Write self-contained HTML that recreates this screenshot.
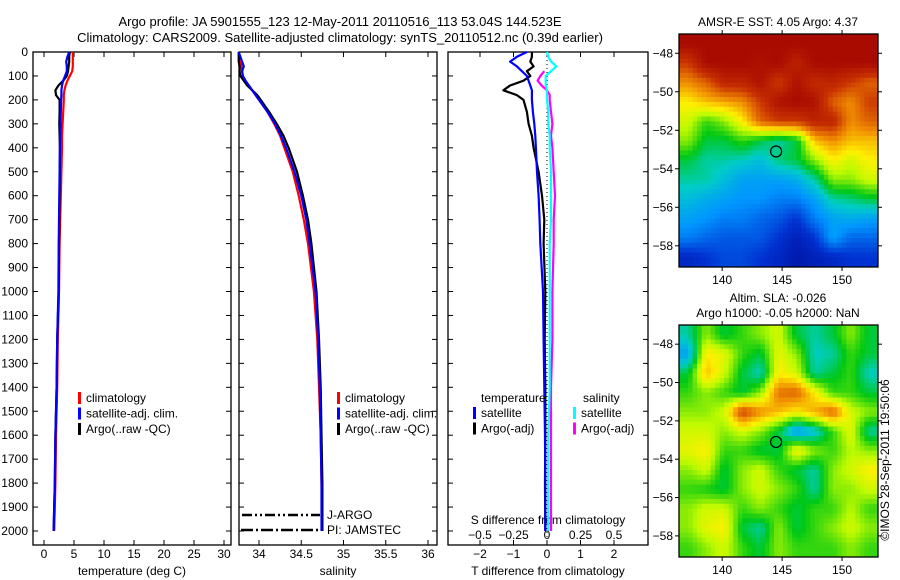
<!DOCTYPE html>
<html><head><meta charset="utf-8">
<style>
body{margin:0;background:#fff;}
svg{display:block;font-family:"Liberation Sans",sans-serif;}
text{font-size:12px;fill:#000;}
</style></head>
<body>
<svg id="c" width="900" height="580" viewBox="0 0 900 580" xmlns="http://www.w3.org/2000/svg">
<text x="340" y="26" text-anchor="middle" style="font-size:13px">Argo profile: JA 5901555_123 12-May-2011 20110516_113 53.04S 144.523E</text>
<text x="340" y="42" text-anchor="middle" style="font-size:13px">Climatology: CARS2009. Satellite-adjusted climatology: synTS_20110512.nc (0.39d earlier)</text>
<text x="778" y="26" text-anchor="middle">AMSR-E SST: 4.05 Argo: 4.37</text>
<text x="778" y="302" text-anchor="middle">Altim. SLA: -0.026</text>
<text x="778" y="317" text-anchor="middle">Argo h1000: -0.05 h2000: NaN</text>
<text transform="translate(889,460) rotate(-90)" text-anchor="middle">©IMOS 28-Sep-2011 19:50:06</text>
<g id="g"></g>
</svg>
<script>
// ---- data ----
const depthTicks=[0,100,200,300,400,500,600,700,800,900,1000,1100,1200,1300,1400,1500,1600,1700,1800,1900,2000];
const tTicks=[0,5,10,15,20,25,30];
const sTicks=[34,34.5,35,35.5,36];
const dTTicks=[-2,-1,0,1,2];
const dSTicks=[-0.5,-0.25,0,0.25,0.5];
const dSLabels=["-0.5","-0.25","0","0.25","0.5"];
const depths=[0,20,40,60,80,100,120,140,160,180,200,250,300,350,400,500,600,700,800,1000,1200,1400,1600,1800,2000];
const tClim=[4.8,4.8,4.8,4.8,4.7,4.3,3.9,3.6,3.4,3.3,3.3,3.2,3.1,3.0,3.0,2.9,2.8,2.7,2.6,2.5,2.3,2.2,2.0,1.9,1.7];
const tSat=[4.2,3.9,3.7,3.8,3.8,3.5,3.2,3.0,2.9,2.9,2.85,2.8,2.75,2.7,2.65,2.6,2.55,2.5,2.45,2.4,2.2,2.1,1.9,1.8,1.6];
const tArgo=[4.3,4.2,4.2,4.1,4.0,3.8,3.2,2.4,1.9,2.0,2.6,2.6,2.55,2.6,2.65,2.65,2.6,2.55,2.5,2.45,2.2,2.1,1.9,1.8,1.6];
const sClim=[33.76,33.77,33.78,33.79,33.8,33.81,33.84,33.88,33.92,33.96,34.0,34.1,34.18,34.25,34.3,34.4,34.47,34.53,34.58,34.65,34.69,34.71,34.73,34.74,34.75];
const sSat=[33.76,33.78,33.8,33.82,33.8,33.81,33.84,33.88,33.92,33.96,34.0,34.1,34.19,34.26,34.32,34.42,34.5,34.56,34.6,34.67,34.7,34.72,34.73,34.74,34.74];
const sArgo=[33.76,33.76,33.76,33.77,33.77,33.78,33.82,33.86,33.92,33.98,34.02,34.12,34.21,34.29,34.35,34.45,34.52,34.58,34.62,34.68,34.71,34.73,34.74,34.75,34.75];
const dtSat=[-0.6,-0.9,-1.1,-0.9,-0.75,-0.6,-0.55,-0.5,-0.45,-0.45,-0.45,-0.42,-0.38,-0.35,-0.33,-0.3,-0.25,-0.22,-0.2,-0.12,-0.1,-0.08,-0.06,-0.05,-0.05];
const dtArgo=[-0.45,-0.45,-0.5,-0.4,-0.6,-0.5,-0.7,-1.1,-1.3,-0.9,-0.7,-0.6,-0.55,-0.45,-0.4,-0.25,-0.15,-0.08,-0.1,-0.05,-0.07,-0.05,-0.05,-0.06,-0.05];
const dsSat=[0.0,0.01,0.03,0.07,0.03,-0.01,-0.01,-0.01,0.0,0.0,0.0,0.01,0.01,0.02,0.02,0.03,0.03,0.03,0.02,0.02,0.02,0.02,0.01,0.01,0.01];
const dsArgo=[null,null,null,null,-0.02,-0.05,-0.07,-0.04,0.0,0.02,0.02,0.03,0.04,0.03,0.04,0.05,0.06,0.05,0.05,0.04,0.04,0.03,0.03,0.03,0.03];
const lonTicks=[140,145,150];
const latTicks=[-48,-50,-52,-54,-56,-58];
const argoLon=144.5, argoLat=-53.1;
const sstGrid=[
[0.97,0.97,0.97,0.97,0.97,0.97,0.97,0.97,0.97,0.97,0.97],
[0.85,0.97,0.97,0.97,0.95,0.97,0.9,0.97,0.97,0.97,0.97],
[0.75,0.8,0.9,0.9,0.95,0.85,0.95,0.88,0.9,0.85,0.8],
[0.65,0.7,0.72,0.75,0.85,0.95,0.97,0.95,0.8,0.75,0.85],
[0.6,0.5,0.55,0.65,0.8,0.85,0.85,0.9,0.9,0.75,0.8],
[0.55,0.45,0.45,0.5,0.45,0.4,0.45,0.7,0.75,0.7,0.7],
[0.45,0.4,0.4,0.38,0.35,0.42,0.45,0.55,0.65,0.6,0.65],
[0.4,0.4,0.35,0.3,0.3,0.3,0.32,0.4,0.55,0.55,0.6],
[0.35,0.32,0.3,0.28,0.28,0.25,0.25,0.3,0.4,0.42,0.45],
[0.3,0.28,0.25,0.25,0.22,0.2,0.15,0.25,0.3,0.32,0.3],
[0.25,0.22,0.2,0.2,0.2,0.15,0.1,0.15,0.3,0.22,0.22],
[0.12,0.15,0.18,0.18,0.15,0.12,0.08,0.1,0.12,0.15,0.15]];
const slaGrid=[
[0.4,0.55,0.45,0.5,0.55,0.6,0.45,0.4,0.45,0.55,0.45],
[0.3,0.65,0.62,0.5,0.45,0.62,0.55,0.38,0.4,0.5,0.45],
[0.45,0.7,0.6,0.45,0.38,0.65,0.6,0.4,0.45,0.5,0.38],
[0.5,0.55,0.5,0.45,0.55,0.78,0.8,0.65,0.5,0.5,0.45],
[0.55,0.55,0.6,0.85,0.75,0.7,0.65,0.72,0.8,0.6,0.55],
[0.6,0.6,0.55,0.6,0.55,0.45,0.28,0.35,0.5,0.62,0.4],
[0.62,0.65,0.5,0.5,0.45,0.45,0.65,0.55,0.5,0.58,0.55],
[0.55,0.6,0.45,0.55,0.6,0.5,0.45,0.4,0.55,0.6,0.65],
[0.5,0.48,0.45,0.55,0.6,0.55,0.5,0.4,0.55,0.55,0.6],
[0.55,0.6,0.6,0.5,0.55,0.5,0.45,0.5,0.5,0.58,0.5],
[0.55,0.62,0.65,0.45,0.4,0.55,0.45,0.5,0.55,0.6,0.55],
[0.5,0.55,0.6,0.5,0.45,0.55,0.5,0.5,0.5,0.55,0.5]];

const NS="http://www.w3.org/2000/svg";
const G=document.getElementById('g');
function mk(tag,attrs,parent){const e=document.createElementNS(NS,tag);for(const k in attrs)e.setAttribute(k,attrs[k]);(parent||G).appendChild(e);return e;}
const TOP=52,BOT=545;
const yD=d=>TOP+0.2395*d;
const xT=t=>44+6*t;
const xS=s=>259+84.5*(s-34);
const xDT=d=>547+33.5*d;
const xDS=d=>547+134*d;

function frame(x0,x1,name){
  const r=mk('rect',{x:x0,y:TOP,width:x1-x0,height:BOT-TOP,fill:'none',stroke:'#000','stroke-width':1.3});
  
  
  depthTicks.forEach(d=>{
    mk('line',{x1:x0,x2:x0+5,y1:yD(d),y2:yD(d),stroke:'#000'});
    mk('line',{x1:x1,x2:x1-5,y1:yD(d),y2:yD(d),stroke:'#000'});
  });
}
function xticks(vals,fx,labels,y,name){
  vals.forEach((v,i)=>{
    const x=fx(v);
    mk('line',{x1:x,x2:x,y1:TOP,y2:TOP+5,stroke:'#000'});
    mk('line',{x1:x,x2:x,y1:BOT,y2:BOT-5,stroke:'#000'});
    const t=mk('text',{x:x,y:y,'text-anchor':'middle'});t.textContent=labels?labels[i]:String(v);
    
    
  });
}
function line(xs,fx,color,name,w){
  let p='';xs.forEach((v,i)=>{if(v===null)return;p+=(p?'L':'M')+fx(v).toFixed(1)+','+yD(depths[i]).toFixed(1);});
  const e=mk('path',{d:p,fill:'none',stroke:color,'stroke-width':w||2.2,'stroke-linejoin':'round'});
  
  
}
function label(x,y,s,name,anchor){const t=mk('text',{x:x,y:y,'text-anchor':anchor||'start'});t.textContent=s;
  
  return t;}
function legend(x,y,items,prefix){
  items.forEach((it,i)=>{
    const r=mk('rect',{x:x,y:y+i*15.5-10,width:3,height:12,fill:it[0]});
    
    
    label(x+8,y+i*15.5,it[1],prefix+'-entry');
  });
}

// Panel 1
frame(33,231,'temperature-panel');
depthTicks.forEach(d=>label(28,yD(d)+4,String(d),'depth-tick-label','end'));
xticks(tTicks,xT,null,558,'temperature-tick-label');
label(132,575,'temperature (deg C)','temperature-axis-title','middle');
line(tClim,xT,'#f00','temp-climatology-line');
line(tArgo,xT,'#000','temp-argo-line');
line(tSat,xT,'#00f','temp-satellite-line');
legend(78,402,[['#f00','climatology'],['#00f','satellite-adj. clim.'],['#000','Argo(..raw -QC)']],'temp-legend');

// Panel 2
frame(239,437,'salinity-panel');
xticks(sTicks,xS,null,558,'salinity-tick-label');
label(338,575,'salinity','salinity-axis-title','middle');
line(sClim,xS,'#f00','sal-climatology-line');
line(sArgo,xS,'#000','sal-argo-line');
line(sSat,xS,'#00f','sal-satellite-line');
legend(337,402,[['#f00','climatology'],['#00f','satellite-adj. clim.'],['#000','Argo(..raw -QC)']],'sal-legend');
mk('line',{x1:242,x2:320,y1:515,y2:515,stroke:'#000','stroke-width':2.5,'stroke-dasharray':'10,3,2,3,2,3'});
mk('line',{x1:241,x2:320,y1:530,y2:530,stroke:'#000','stroke-width':2.5,'stroke-dasharray':'12,3,2,3'});
label(327,519,'J-ARGO','j-argo-label');
label(327,534,'PI: JAMSTEC','pi-label');

// Panel 3
frame(448,648,'difference-panel');
dTTicks.forEach(v=>{const x=xDT(v);mk('line',{x1:x,x2:x,y1:TOP,y2:TOP+5,stroke:'#000'});mk('line',{x1:x,x2:x,y1:BOT,y2:BOT-5,stroke:'#000'});
  label(x,558,String(v).replace('-','−'),'tdiff-tick-label','middle');});
dSTicks.forEach((v,i)=>{label(xDS(v),539,dSLabels[i].replace('-','−'),'sdiff-tick-label','middle');});
label(548,524,'S difference from climatology','sdiff-axis-title','middle');
label(548,575,'T difference from climatology','tdiff-axis-title','middle');
mk('line',{x1:xDT(0),x2:xDT(0),y1:TOP,y2:BOT,stroke:'#000','stroke-width':1,'stroke-dasharray':'1,3'});
line(dtArgo,xDT,'#000','tdiff-argo-line');
line(dtSat,xDT,'#00f','tdiff-satellite-line');
line(dsArgo,xDS,'#f0f','sdiff-argo-line');
line(dsSat,xDS,'#0ff','sdiff-satellite-line');
label(481,402,'temperature','tdiff-legend-title');
label(583,402,'salinity','sdiff-legend-title');
legend(473,417,[['#00f','satellite'],['#000','Argo(-adj)']],'tdiff-legend');
legend(573,417,[['#0ff','satellite'],['#f0f','Argo(-adj)']],'sdiff-legend');

// Maps
const cmapStops=[[0,[0,0,130]],[0.15,[0,50,210]],[0.28,[0,150,255]],[0.38,[0,205,200]],[0.47,[0,200,20]],[0.58,[190,250,0]],[0.65,[255,240,0]],[0.75,[240,140,0]],[0.86,[200,50,0]],[1,[160,0,0]]];
function cmap(v){v=Math.max(0,Math.min(1,v));
  for(let i=1;i<cmapStops.length;i++){const a=cmapStops[i-1],b=cmapStops[i];
    if(v<=b[0]){const t=(v-a[0])/(b[0]-a[0]);const c=a[1].map((q,k)=>Math.round(q+(b[1][k]-q)*t));return 'rgb('+c.join(',')+')';}}
  return 'rgb(160,0,0)';}
function sample(grid,r,c){const nr=grid.length,nc=grid[0].length;
  r=Math.max(0,Math.min(nr-1,r));c=Math.max(0,Math.min(nc-1,c));
  const r0=Math.floor(r),c0=Math.floor(c),r1=Math.min(nr-1,r0+1),c1=Math.min(nc-1,c0+1),fr=r-r0,fc=c-c0;
  return grid[r0][c0]*(1-fr)*(1-fc)+grid[r0][c1]*(1-fr)*fc+grid[r1][c0]*fr*(1-fc)+grid[r1][c1]*fr*fc;}
function map(grid,yTop,yBot,name){
  const x0=679,x1=878,lon0=136.4,lon1=153,lat0=-47,lat1=-59.1;
  const fx=l=>x0+(l-lon0)/(lon1-lon0)*(x1-x0);
  const fy=l=>yTop+(l-lat0)/(lat1-lat0)*(yBot-yTop);
  const nr=grid.length,nc=grid[0].length,S=4;
  const cw=(x1-x0)/(nc*S),ch=(yBot-yTop)/(nr*S);
  for(let i=0;i<nr*S;i++)for(let j=0;j<nc*S;j++){
    const v=sample(grid,(i+0.5)/S-0.5,(j+0.5)/S-0.5);
    const c=mk('rect',{x:(x0+j*cw).toFixed(2),y:(yTop+i*ch).toFixed(2),width:(cw+0.5).toFixed(2),height:(ch+0.5).toFixed(2),fill:cmap(v)});
    
    
  }
  const f=mk('rect',{x:x0,y:yTop,width:x1-x0,height:yBot-yTop,fill:'none',stroke:'#000','stroke-width':1.3});
  
  
  lonTicks.forEach(l=>{const x=fx(l);mk('line',{x1:x,x2:x,y1:yTop,y2:yTop-4,stroke:'#000'});mk('line',{x1:x,x2:x,y1:yBot,y2:yBot+4,stroke:'#000'});
    label(x,yBot+17,String(l),name+'-lon-label','middle');});
  latTicks.forEach(l=>{const y=fy(l);mk('line',{x1:x0,x2:x0-4,y1:y,y2:y,stroke:'#000'});mk('line',{x1:x1,x2:x1+4,y1:y,y2:y,stroke:'#000'});
    label(x0-6,y+4,String(l).replace('-','−'),name+'-lat-label','end');});
  const c=mk('circle',{cx:fx(argoLon),cy:fy(argoLat),r:5.5,fill:'none',stroke:'#000','stroke-width':1.2});
  
  
}
map(sstGrid,34,267,'sst-map');
map(slaGrid,325,557,'sla-map');
</script>
</body></html>
